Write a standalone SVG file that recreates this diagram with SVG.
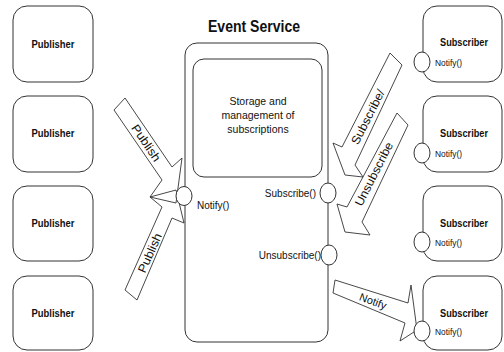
<svg xmlns="http://www.w3.org/2000/svg" width="504" height="352" viewBox="0 0 504 352">
<style>
.box{fill:#fff;stroke:#333;stroke-width:1}
.port{fill:#fff;stroke:#333;stroke-width:1}
.arrow{fill:none;stroke:#333;stroke-width:0.9;stroke-linejoin:miter}
.t{font-family:"Liberation Sans",Arial,sans-serif;fill:#111}
.b{font-weight:bold;font-size:11px;text-anchor:middle}
.m{font-size:10px}
.al{font-size:12px;text-anchor:middle}
</style>
<rect width="504" height="352" fill="#fff"/>
<g id="connectors">
<polygon class="arrow" points="114,110 125,98 172,167 182,158 176,203 150,197 162,180"/>
<polygon class="arrow" points="125,290 162,207 150,197 176,190 184,223 172,218 137,300"/>
<polygon class="arrow" points="390,53 402,65 355,165 363,177 345,175 333,143 342,147"/>
<polygon class="arrow" points="397,113 408,125 362,222 370,235 345,232 337,204 347,207"/>
<polygon class="arrow" points="335,280 408,303 411,285 417,330 400,341 405,323 333,293"/>
<text class="t al" transform="translate(146,143) rotate(55.6)" y="4" textLength="42" lengthAdjust="spacingAndGlyphs">Publish</text>
<text class="t al" transform="translate(150,253) rotate(-66)" y="4" textLength="42" lengthAdjust="spacingAndGlyphs">Publish</text>
<text class="t al" transform="translate(368,117) rotate(-63)" y="4" textLength="60" lengthAdjust="spacingAndGlyphs">Subscribe/</text>
<text class="t al" transform="translate(374,174) rotate(-63)" y="4" textLength="70" lengthAdjust="spacingAndGlyphs">Unsubscribe</text>
<text class="t al" style="font-size:11px" transform="translate(373,301) rotate(20)" y="4" textLength="28" lengthAdjust="spacingAndGlyphs">Notify</text>
</g>
<g id="publisher1"><rect class="box" x="13" y="6" width="80" height="76" rx="14"/><text class="t b" x="53" y="48" textLength="43" lengthAdjust="spacingAndGlyphs">Publisher</text></g>
<g id="publisher2"><rect class="box" x="13" y="96" width="80" height="76" rx="14"/><text class="t b" x="53" y="137" textLength="43" lengthAdjust="spacingAndGlyphs">Publisher</text></g>
<g id="publisher3"><rect class="box" x="13" y="186" width="80" height="75" rx="14"/><text class="t b" x="53" y="227" textLength="43" lengthAdjust="spacingAndGlyphs">Publisher</text></g>
<g id="publisher4"><rect class="box" x="13" y="276" width="80" height="74" rx="14"/><text class="t b" x="53" y="317" textLength="43" lengthAdjust="spacingAndGlyphs">Publisher</text></g>
<g id="event-service">
<text class="t" x="254" y="32" style="font-size:16px;font-weight:bold;text-anchor:middle" textLength="92" lengthAdjust="spacingAndGlyphs">Event Service</text>
<rect class="box" style="fill:none" x="185" y="43" width="143" height="299" rx="12"/>
<rect class="box" x="193" y="59" width="129" height="118" rx="11"/>
<text class="t m" style="font-size:10.5px;text-anchor:middle" x="258" y="105">Storage and</text>
<text class="t m" style="font-size:10.5px;text-anchor:middle" x="258" y="119">management of</text>
<text class="t m" style="font-size:10.5px;text-anchor:middle" x="258" y="133">subscriptions</text>
<ellipse class="port" cx="184" cy="196" rx="8" ry="9.5"/>
<text class="t m" x="197" y="209">Notify()</text>
<ellipse class="port" cx="328" cy="193" rx="8" ry="10"/>
<text class="t m" x="316" y="197" text-anchor="end">Subscribe()</text>
<ellipse class="port" cx="329" cy="255" rx="8" ry="10"/>
<text class="t m" x="321" y="259" text-anchor="end">Unsubscribe()</text>
</g>
<g id="subscriber1"><rect class="box" x="423" y="6" width="79" height="76" rx="14"/><ellipse class="port" cx="422" cy="62" rx="8" ry="10"/><text class="t b" x="464" y="46" textLength="48" lengthAdjust="spacingAndGlyphs">Subscriber</text><text class="t" style="font-size:9.5px" x="435" y="66" textLength="27" lengthAdjust="spacingAndGlyphs">Notify()</text></g>
<g id="subscriber2"><rect class="box" x="423" y="96" width="79" height="76" rx="14"/><ellipse class="port" cx="422" cy="153" rx="8" ry="10"/><text class="t b" x="464" y="137" textLength="48" lengthAdjust="spacingAndGlyphs">Subscriber</text><text class="t" style="font-size:9.5px" x="435" y="157" textLength="27" lengthAdjust="spacingAndGlyphs">Notify()</text></g>
<g id="subscriber3"><rect class="box" x="423" y="186" width="79" height="75" rx="14"/><ellipse class="port" cx="422" cy="242" rx="8" ry="10"/><text class="t b" x="464" y="227" textLength="48" lengthAdjust="spacingAndGlyphs">Subscriber</text><text class="t" style="font-size:9.5px" x="435" y="246" textLength="27" lengthAdjust="spacingAndGlyphs">Notify()</text></g>
<g id="subscriber4"><rect class="box" x="423" y="276" width="79" height="74" rx="14"/><ellipse class="port" cx="422" cy="331" rx="8" ry="10"/><text class="t b" x="464" y="317" textLength="48" lengthAdjust="spacingAndGlyphs">Subscriber</text><text class="t" style="font-size:9.5px" x="435" y="335" textLength="27" lengthAdjust="spacingAndGlyphs">Notify()</text></g>
</svg>
